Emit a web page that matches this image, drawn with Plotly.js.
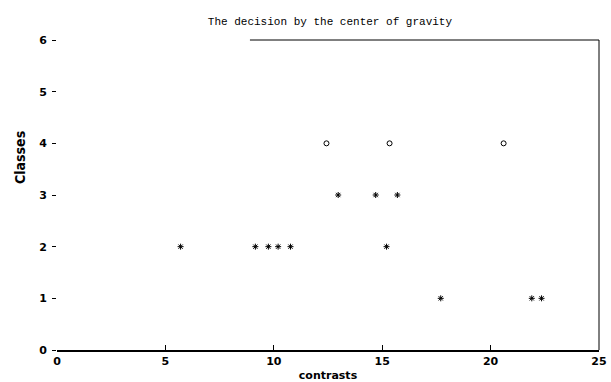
<!DOCTYPE html>
<html><head><meta charset="utf-8">
<script src="https://cdn.plot.ly/plotly-3.0.1.min.js"></script>
<style>body{margin:0;background:#fff}#c{width:611px;height:382px}</style>
</head><body><div id="c"></div>
<script>
const starX = [5.7, 9.15, 9.75, 10.2, 10.77, 15.2, 12.97, 14.7, 15.7, 17.7, 21.9, 22.35];
const starY = [2, 2, 2, 2, 2, 2, 3, 3, 3, 1, 1, 1];
const circleX = [12.43, 15.34, 20.6];
const circleY = [4, 4, 4];
const xTicks = [0, 5, 10, 15, 20, 25];
const yTicks = [0, 1, 2, 3, 4, 5, 6];

const traces = [
  {x: starX, y: starY, mode: 'markers', type: 'scatter',
   marker: {symbol: 'asterisk-open', size: 5, color: '#000', line: {color: '#000', width: 1}}},
  {x: circleX, y: circleY, mode: 'markers', type: 'scatter',
   marker: {symbol: 'circle-open', size: 5, color: '#000', line: {color: '#000', width: 1}}}
];
const layout = {
  width: 611, height: 382, showlegend: false,
  paper_bgcolor: '#fff', plot_bgcolor: '#fff',
  margin: {l: 57, r: 12, t: 40, b: 32},
  title: {text: 'The decision by the center of gravity', x: 0.54, xanchor: 'center', y: 0.955,
          font: {family: 'Liberation Mono, Courier New, monospace', size: 11, color: '#000'}},
  xaxis: {range: [0, 25], tickvals: xTicks, ticktext: xTicks.map(String), ticks: 'inside', ticklen: 5,
          tickcolor: '#000', showline: true, linewidth: 2, linecolor: '#000', showgrid: false, zeroline: false,
          tickfont: {family: 'DejaVu Sans, sans-serif', size: 11, color: '#000', weight: 'bold'},
          title: {text: '<b>contrasts</b>', standoff: 5, font: {family: 'DejaVu Sans, sans-serif', size: 11, color: '#000'}}},
  yaxis: {range: [0, 6], tickvals: yTicks, ticktext: yTicks.map(String), ticks: 'outside', ticklen: 4,
          ticklabelstandoff: 3,
          tickcolor: '#000', showline: false, showgrid: false, zeroline: false,
          tickfont: {family: 'DejaVu Sans, sans-serif', size: 11, color: '#000', weight: 'bold'}},
  annotations: [{text: '<b>Classes</b>', xref: 'paper', yref: 'paper', x: -0.068, xanchor: 'center', y: 0.62, yanchor: 'middle',
                 textangle: -90, showarrow: false,
                 font: {family: 'DejaVu Sans Condensed, DejaVu Sans, sans-serif', size: 14, color: '#000'}}],
  shapes: [
    {type: 'line', xref: 'x', yref: 'paper', x0: 8.9, x1: 25, y0: 1, y1: 1, line: {color: '#000', width: 1}},
    {type: 'line', xref: 'paper', yref: 'paper', x0: 1, x1: 1, y0: 0, y1: 1, line: {color: '#000', width: 1}}
  ]
};
Plotly.newPlot('c', traces, layout, {displayModeBar: false, staticPlot: true});
</script></body></html>
